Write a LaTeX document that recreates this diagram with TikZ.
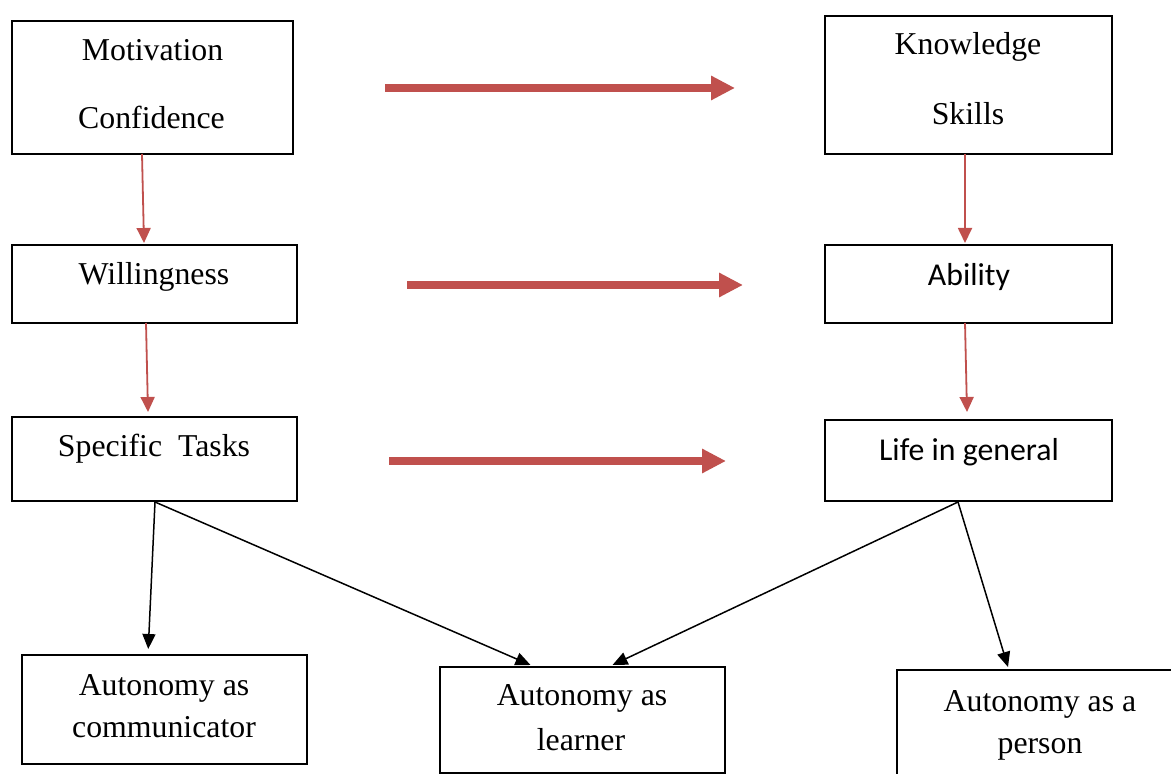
\documentclass[tikz,border=0pt]{standalone}
\usepackage{fontspec}
\setmainfont{Liberation Serif}
\newfontfamily\calfont{Carlito}
\usetikzlibrary{arrows.meta,fit}
\definecolor{accred}{HTML}{C0504D}
\tikzset{
  box/.style={draw=black,line width=1pt,inner sep=0pt,outer sep=0pt,rectangle},
  txt/.style={anchor=base,inner sep=0pt,font=\fontsize{15.9}{19}\selectfont},
  stxt/.style={anchor=base,inner sep=0pt,font=\calfont\fontsize{15.9}{19}\selectfont},
  bigred/.style={draw=accred,line width=4pt,-{Triangle[width=11.5pt,length=12pt]}},
  thinred/.style={draw=accred,line width=0.9pt,-{Triangle[width=7pt,length=7.5pt]}},
  blk/.style={draw=black,line width=0.75pt,-{Triangle[width=6.5pt,length=7.5pt]}}
}
\begin{document}
\begin{tikzpicture}[x=0.5pt,y=-0.5pt]
\clip (0,0) rectangle (1171,774);
\fill[white] (0,0) rectangle (1171,774);
% boxes
\node[box,fit={(11.5,21) (292.5,154)}] (mot) {};
\node[box,fit={(825,16.5) (1112,154)}] (kno) {};
\node[box,fit={(11.5,245) (296.5,323)}] (wil) {};
\node[box,fit={(825,245) (1112,323)}] (abi) {};
\node[box,fit={(11.5,417) (296.5,501)}] (tas) {};
\node[box,fit={(825,420) (1112,501)}] (lif) {};
\node[box,fit={(22,655) (306.5,764)}] (com) {};
\node[box,fit={(440,667) (725,773)}] (lea) {};
\node[box,fit={(897,670) (1190,800)}] (per) {};
% texts
\node[txt] (t1) at (152.5,61) {Motivation};
\node[txt] (t2) at (151.5,129) {Confidence};
\node[txt] (t3) at (968,55) {Knowledge};
\node[txt] (t4) at (968,125) {Skills};
\node[txt] (t5) at (154,285) {Willingness};
\node[stxt] (t6) at (969,286) {Ability};
\node[txt] (t7) at (154,457) {Specific\ \ Tasks};
\node[stxt] (t8) at (969,460) {Life in general};
\node[txt] (t9) at (164,695) {Autonomy as};
\node[txt] (t10) at (164,737) {communicator};
\node[txt] (t11) at (582,705) {Autonomy as};
\node[txt] (t12) at (581,750) {learner};
\node[txt] (t13) at (1040,711) {Autonomy as a};
\node[txt] (t14) at (1040,753) {person};
% thick arrow end points
\coordinate (a1s) at (385,88);  \coordinate (a1e) at (735,88);
\coordinate (a2s) at (407,285); \coordinate (a2e) at (743,285);
\coordinate (a3s) at (389,461); \coordinate (a3e) at (726,461);
\draw[bigred] (a1s) -- (a1e);
\draw[bigred] (a2s) -- (a2e);
\draw[bigred] (a3s) -- (a3e);
% thin red arrows
\draw[thinred] ([xshift=-5pt]mot.south) -- ([xshift=-5pt,yshift=1pt]wil.north);
\draw[thinred] ([xshift=-4pt]wil.south) -- ([xshift=-3pt,yshift=2.5pt]tas.north);
\draw[thinred] ([xshift=-1.75pt]kno.south) -- ([xshift=-1.75pt,yshift=1pt]abi.north);
\draw[thinred] ([xshift=-1.75pt]abi.south) -- ([xshift=-0.75pt,yshift=4pt]lif.north);
% black arrows
\coordinate (ts) at (155,502);
\coordinate (ls) at (958,502);
\draw[blk] (ts) -- ([xshift=-8pt,yshift=3pt]com.north);
\draw[blk] (ts) -- ([xshift=-26pt,yshift=1pt]lea.north);
\draw[blk] (ls) -- ([xshift=15pt,yshift=1pt]lea.north);
\draw[blk] (ls) -- (1008,667);
\end{tikzpicture}
\end{document}
